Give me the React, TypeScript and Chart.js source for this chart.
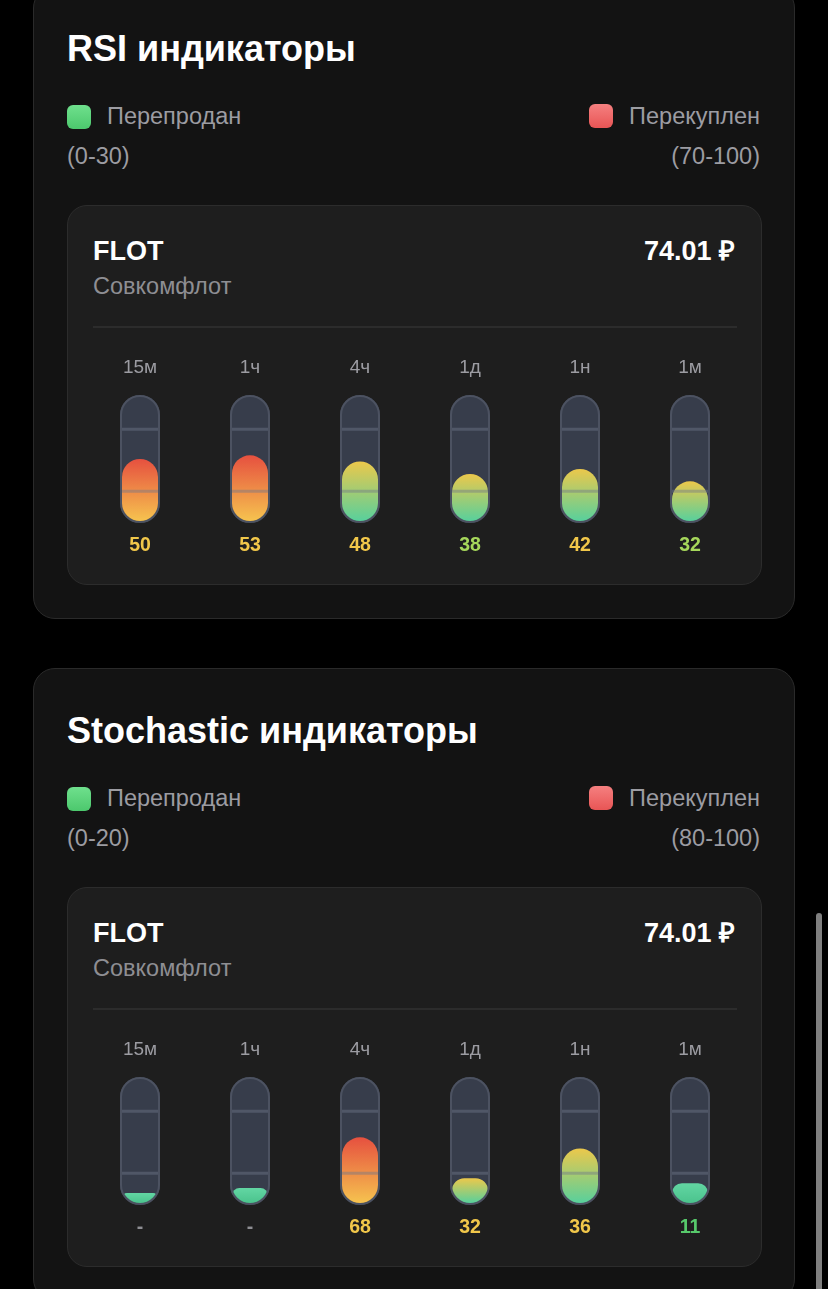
import React, { useEffect, useRef } from "react";
import { Chart, registerables } from "chart.js";

Chart.register(...registerables);

// ---------- data ----------
const timeframes = ["15м", "1ч", "4ч", "1д", "1н", "1м"];

const rsiFill = [50, 53, 48, 38, 42, 32];
const rsiValues: (number | null)[] = [50, 53, 48, 38, 42, 32];
const rsiZones = [30, 70];

const stochFill = [8, 12, 53, 20, 44, 16];
const stochValues: (number | null)[] = [null, null, 68, 32, 36, 11];
const stochZones = [20, 80];

const guideLevels = [24, 74];

const ticker = "FLOT";
const company = "Совкомфлот";
const price = "74.01 ₽";

// ---------- styles ----------
const FONT = '"Liberation Sans", Arial, Helvetica, sans-serif';
const GREY = "#9c9ca2";

function fillColors(v: number): [string, string] {
  if (v >= 50) return ["#e6503f", "#f6c34f"];
  if (v >= 18) return ["#ecc84b", "#58d09c"];
  return ["#62d6a3", "#4bc38d"];
}

function valueColor(v: number | null, zones: number[]): string {
  if (v === null) return "#8e8e93";
  if (v < zones[0]) return "#57c96b";
  if (v < zones[0] + 10) return "#a6d75b";
  if (v <= zones[1]) return "#f1c74a";
  return "#ef6a5a";
}

function capsule(ctx: CanvasRenderingContext2D, x: number, y: number, w: number, h: number, r: number) {
  ctx.beginPath();
  ctx.moveTo(x + r, y);
  ctx.lineTo(x + w - r, y);
  ctx.arc(x + w - r, y + r, r, -Math.PI / 2, 0);
  ctx.lineTo(x + w, y + h - r);
  ctx.arc(x + w - r, y + h - r, r, 0, Math.PI / 2);
  ctx.lineTo(x + r, y + h);
  ctx.arc(x + r, y + h - r, r, Math.PI / 2, Math.PI);
  ctx.lineTo(x, y + r);
  ctx.arc(x + r, y + r, r, Math.PI, Math.PI * 1.5);
  ctx.closePath();
}

function makeTubePlugin(values: (number | null)[], zones: number[]) {
  return {
    id: "tubes",
    afterDatasetsDraw(chart: any) {
      const ctx: CanvasRenderingContext2D = chart.ctx;
      const meta = chart.getDatasetMeta(0);
      const ys = chart.scales.y;
      const area = chart.chartArea;
      const top = ys.getPixelForValue(100);
      const bot = ys.getPixelForValue(0);
      const labels = chart.data.labels as string[];
      const fills = chart.data.datasets[0].data as number[];
      meta.data.forEach((el: any, i: number) => {
        const w = el.width;
        const cx = el.x;
        const x0 = cx - w / 2;
        const h = bot - top;
        ctx.save();
        // track
        capsule(ctx, x0 - 2, top - 2, w + 4, h + 4, (w + 4) / 2);
        ctx.fillStyle = "#373d4b";
        ctx.fill();
        capsule(ctx, x0 - 1, top - 1, w + 2, h + 2, (w + 2) / 2);
        ctx.strokeStyle = "#4c5261";
        ctx.lineWidth = 2;
        ctx.stroke();
        // fill
        capsule(ctx, x0, top, w, h, w / 2);
        ctx.clip();
        const fy = el.y;
        const fh = bot - fy;
        const rt = Math.min(w / 2, fh / 2);
        const [c1, c2] = fillColors(fills[i]);
        const g = ctx.createLinearGradient(0, fy, 0, bot);
        g.addColorStop(0, c1);
        g.addColorStop(1, c2);
        ctx.beginPath();
        ctx.moveTo(x0, bot + 2);
        ctx.lineTo(x0, fy + rt);
        ctx.arc(x0 + rt, fy + rt, rt, Math.PI, Math.PI * 1.5);
        ctx.lineTo(x0 + w - rt, fy);
        ctx.arc(x0 + w - rt, fy + rt, rt, -Math.PI / 2, 0);
        ctx.lineTo(x0 + w, bot + 2);
        ctx.closePath();
        ctx.fillStyle = g;
        ctx.fill();
        ctx.restore();
        // guide lines
        ctx.save();
        ctx.fillStyle = "rgba(111,119,137,0.45)";
        guideLevels.forEach((lv) => {
          const yy = ys.getPixelForValue(lv);
          ctx.fillRect(x0, yy - 1.5, w, 3);
        });
        ctx.restore();
        // labels
        ctx.save();
        ctx.textAlign = "center";
        ctx.textBaseline = "middle";
        ctx.font = `19px ${FONT}`;
        ctx.fillStyle = GREY;
        ctx.fillText(labels[i], cx, area.top - 29);
        const v = values[i];
        ctx.font = `bold 19.5px ${FONT}`;
        ctx.fillStyle = valueColor(v, zones);
        ctx.fillText(v === null ? "-" : String(v), cx, area.bottom + 25);
        ctx.restore();
      });
    },
  };
}

function TubeChart({ fills, values, zones }: { fills: number[]; values: (number | null)[]; zones: number[] }) {
  const ref = useRef<HTMLCanvasElement>(null);
  useEffect(() => {
    if (!ref.current) return;
    const chart = new Chart(ref.current, {
      type: "bar",
      data: {
        labels: timeframes,
        datasets: [
          {
            data: fills,
            backgroundColor: "rgba(0,0,0,0)",
            borderWidth: 0,
            barThickness: 36,
          },
        ],
      },
      options: {
        animation: false,
        responsive: false,
        maintainAspectRatio: false,
        devicePixelRatio: 1,
        layout: { padding: { top: 51, bottom: 50, left: 0, right: 0 } },
        plugins: { legend: { display: false }, tooltip: { enabled: false } },
        scales: {
          x: { display: false },
          y: { display: false, min: 0, max: 100 },
        },
      },
      plugins: [makeTubePlugin(values, zones)],
    } as any);
    return () => chart.destroy();
  }, [fills, values, zones]);
  return (
    <canvas
      ref={ref}
      width={660}
      height={225}
      style={{ position: "absolute", left: 51, top: 359, width: 660, height: 225 }}
    />
  );
}

function T(props: {
  x: number;
  y: number;
  size: number;
  bold?: boolean;
  color: string;
  right?: boolean;
  children: React.ReactNode;
}) {
  const { x, y, size, bold, color, right, children } = props;
  const style: React.CSSProperties = {
    position: "absolute",
    top: y - size / 2,
    lineHeight: `${size}px`,
    fontSize: size,
    fontWeight: bold ? 700 : 400,
    color,
    fontFamily: FONT,
    whiteSpace: "nowrap",
  };
  if (right) style.right = 762 - x;
  else style.left = x;
  return <div style={style}>{children}</div>;
}

function Square({ x, y, top, bottom }: { x: number; y: number; top: string; bottom: string }) {
  return (
    <div
      style={{
        position: "absolute",
        left: x,
        top: y,
        width: 24,
        height: 24,
        borderRadius: 6,
        background: `linear-gradient(${top}, ${bottom})`,
      }}
    />
  );
}

// coordinates inside a card are relative to the card's top-left (card left = 33 on the page)
function IndicatorCard(props: {
  top: number;
  title: string;
  lowRange: string;
  highRange: string;
  fills: number[];
  values: (number | null)[];
  zones: number[];
}) {
  const { top, title, lowRange, highRange, fills, values, zones } = props;
  return (
    <div
      style={{
        position: "absolute",
        left: 33,
        top,
        width: 762,
        height: 633,
        boxSizing: "border-box",
        background: "#131313",
        border: "1.5px solid #2a2a2a",
        borderRadius: 22,
      }}
    >
      <T x={33} y={62} size={36} bold color="#ffffff">
        {title}
      </T>
      <Square x={33} y={118} top="#6fe08d" bottom="#4cc86d" />
      <T x={73} y={130} size={23.5} color={GREY}>
        Перепродан
      </T>
      <T x={33} y={170} size={23.5} color={GREY}>
        {lowRange}
      </T>
      <Square x={555} y={117} top="#f58080" bottom="#e85555" />
      <T x={728} y={130} size={23.5} color={GREY} right>
        Перекуплен
      </T>
      <T x={728} y={170} size={23.5} color={GREY} right>
        {highRange}
      </T>
      <div
        style={{
          position: "absolute",
          left: 33,
          top: 218,
          width: 695,
          height: 380,
          boxSizing: "border-box",
          background: "#1e1e1e",
          border: "1.5px solid #2c2c2c",
          borderRadius: 20,
        }}
      />
      <T x={59} y={264} size={27} bold color="#ffffff">
        {ticker}
      </T>
      <T x={703} y={264} size={27} bold color="#ffffff" right>
        {price}
      </T>
      <T x={59} y={300} size={23.5} color="#8e8e93">
        {company}
      </T>
      <div style={{ position: "absolute", left: 59, top: 339, width: 644, height: 2, background: "#2c2c2c" }} />
      <TubeChart fills={fills} values={values} zones={zones} />
    </div>
  );
}

export default function App() {
  return (
    <div
      style={{
        position: "absolute",
        left: 0,
        top: 0,
        width: 828,
        height: 1289,
        overflow: "hidden",
        background: "#000000",
      }}
    >
      <IndicatorCard
        top={-14}
        title="RSI индикаторы"
        lowRange="(0-30)"
        highRange="(70-100)"
        fills={rsiFill}
        values={rsiValues}
        zones={rsiZones}
      />
      <IndicatorCard
        top={668}
        title="Stochastic индикаторы"
        lowRange="(0-20)"
        highRange="(80-100)"
        fills={stochFill}
        values={stochValues}
        zones={stochZones}
      />
      <div
        style={{
          position: "absolute",
          left: 816,
          top: 913,
          width: 6,
          height: 400,
          borderRadius: 3,
          background: "#7f7f7f",
        }}
      />
    </div>
  );
}
